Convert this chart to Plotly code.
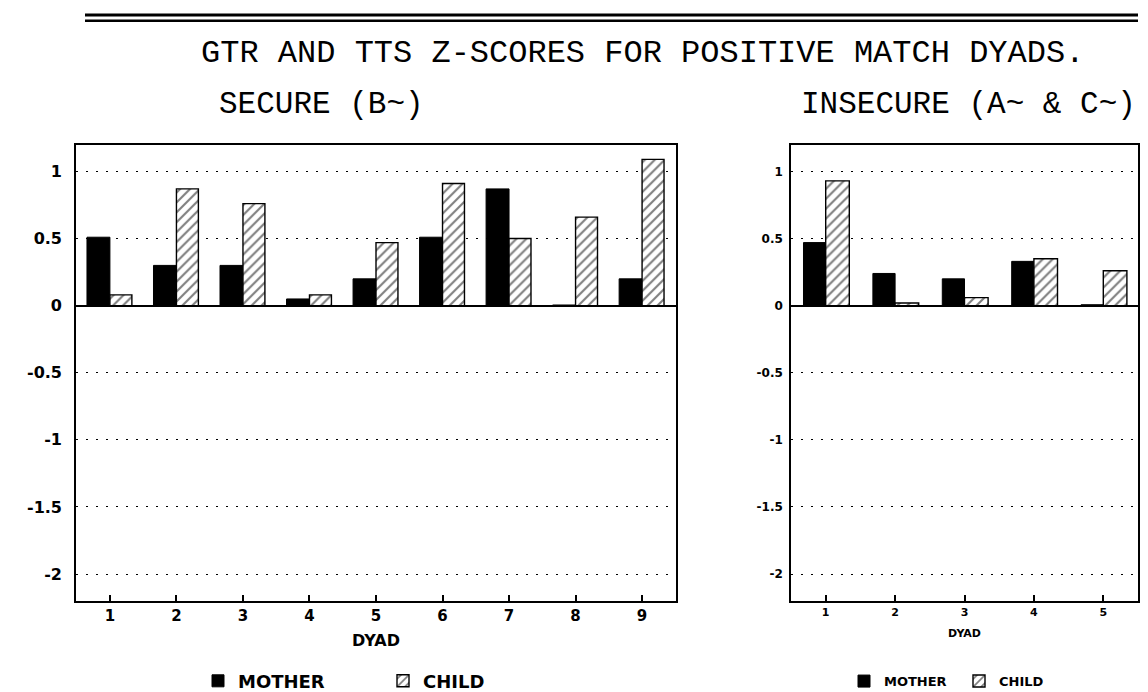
import plotly.graph_objects as go

# ---- data ----
dyads_secure = [1, 2, 3, 4, 5, 6, 7, 8, 9]
mother_secure = [0.51, 0.30, 0.30, 0.05, 0.20, 0.51, 0.87, 0.005, 0.20]
child_secure = [0.08, 0.87, 0.76, 0.08, 0.47, 0.91, 0.50, 0.66, 1.09]

dyads_insecure = [1, 2, 3, 4, 5]
mother_insecure = [0.47, 0.24, 0.20, 0.33, 0.007]
child_insecure = [0.93, 0.02, 0.06, 0.35, 0.26]

y_tick_values = [-2, -1.5, -1, -0.5, 0, 0.5, 1]
y_tick_labels = ["-2", "-1.5", "-1", "-0.5", "0", "0.5", "1"]

W, H = 1148, 692


def px(x):
    return x / W


def py(y):
    return 1 - y / H


mono = "Liberation Mono"
sans = "DejaVu Sans"

fig = go.Figure()

child_pattern = dict(shape="/", fgcolor="black", bgcolor="white", size=7, solidity=0.3)

# left panel
fig.add_trace(go.Bar(x=dyads_secure, y=mother_secure, name="MOTHER", xaxis="x", yaxis="y",
                     width=0.345, offset=-0.345, legend="legend",
                     marker=dict(color="black", line=dict(color="black", width=1))))
fig.add_trace(go.Bar(x=dyads_secure, y=child_secure, name="CHILD", xaxis="x", yaxis="y",
                     width=0.33, offset=0, legend="legend",
                     marker=dict(color="white", pattern=child_pattern, line=dict(color="black", width=1.4))))
# right panel
fig.add_trace(go.Bar(x=dyads_insecure, y=mother_insecure, name="MOTHER", xaxis="x2", yaxis="y2",
                     width=0.32, offset=-0.32, legend="legend2",
                     marker=dict(color="black", line=dict(color="black", width=1))))
fig.add_trace(go.Bar(x=dyads_insecure, y=child_insecure, name="CHILD", xaxis="x2", yaxis="y2",
                     width=0.34, offset=0, legend="legend2",
                     marker=dict(color="white", pattern=child_pattern, line=dict(color="black", width=1.4))))

ydom = [py(599), py(138)]

common_x = dict(showline=True, mirror=True, linecolor="black", linewidth=1.6,
                ticks="inside", ticklen=6, tickwidth=1.5, tickcolor="black",
                showgrid=False, zeroline=False, automargin=False)
common_y = dict(showline=True, mirror=True, linecolor="black", linewidth=1.6,
                ticks="", range=[-2.2, 1.2], tickmode="array",
                tickvals=y_tick_values, ticktext=y_tick_labels,
                showgrid=True, gridcolor="black", gridwidth=1.4, griddash="2px,8px",
                zeroline=True, zerolinecolor="black", zerolinewidth=1.6, automargin=False)

fig.update_layout(
    width=W, height=H,
    margin=dict(l=0, r=0, t=0, b=0),
    paper_bgcolor="white", plot_bgcolor="white",
    barmode="overlay",
    xaxis=dict(domain=[px(68), px(668)], range=[0.49, 9.51], tickmode="array", tickvals=dyads_secure,
               tickfont=dict(family=sans, size=15, color="black", weight="bold"),
               title=dict(text="DYAD", font=dict(family=sans, size=16, color="black", weight="bold"), standoff=11),
               anchor="y", **common_x),
    yaxis=dict(domain=ydom, anchor="x", ticklabelstandoff=9,
               tickfont=dict(family=sans, size=16, color="black", weight="bold"), **common_y),
    xaxis2=dict(domain=[px(783), px(1130)], range=[0.5, 5.5], tickmode="array", tickvals=dyads_insecure,
                tickfont=dict(family=sans, size=11, color="black", weight="bold"),
                title=dict(text="DYAD", font=dict(family=sans, size=11, color="black", weight="bold"), standoff=11),
                anchor="y2", **common_x),
    yaxis2=dict(domain=ydom, anchor="x2", ticklabelstandoff=4,
                tickfont=dict(family=sans, size=12, color="black", weight="bold"), **common_y),
    legend=dict(orientation="h", x=px(190), xanchor="left", y=py(680), yanchor="middle",
                font=dict(family=sans, size=18, color="black", weight="bold"),
                bgcolor="rgba(0,0,0,0)", itemwidth=30, entrywidth=140, entrywidthmode="pixels",
                traceorder="normal"),
    legend2=dict(orientation="h", x=px(836), xanchor="left", y=py(680), yanchor="middle",
                 font=dict(family=sans, size=13, color="black", weight="bold"),
                 bgcolor="rgba(0,0,0,0)", itemwidth=30, entrywidth=70, entrywidthmode="pixels",
                 traceorder="normal"),
    annotations=[
        dict(text="GTR AND TTS Z-SCORES FOR POSITIVE MATCH DYADS.", xref="paper", yref="paper",
             x=px(634), y=py(46), xanchor="center", yanchor="middle", showarrow=False,
             font=dict(family=mono, size=32, color="black")),
        dict(text="SECURE (B~)", xref="paper", yref="paper",
             x=px(314), y=py(97), xanchor="center", yanchor="middle", showarrow=False,
             font=dict(family=mono, size=31, color="black")),
        dict(text="INSECURE (A~ & C~)", xref="paper", yref="paper",
             x=px(960), y=py(97), xanchor="center", yanchor="middle", showarrow=False,
             font=dict(family=mono, size=31, color="black")),
    ],
    shapes=[
        dict(type="line", xref="paper", yref="paper", x0=px(77), x1=px(1130), y0=py(7), y1=py(7),
             line=dict(color="black", width=3)),
        dict(type="line", xref="paper", yref="paper", x0=px(77), x1=px(1130), y0=py(13), y1=py(13),
             line=dict(color="black", width=2.5)),
    ],
)

fig.write_html("out.html")
